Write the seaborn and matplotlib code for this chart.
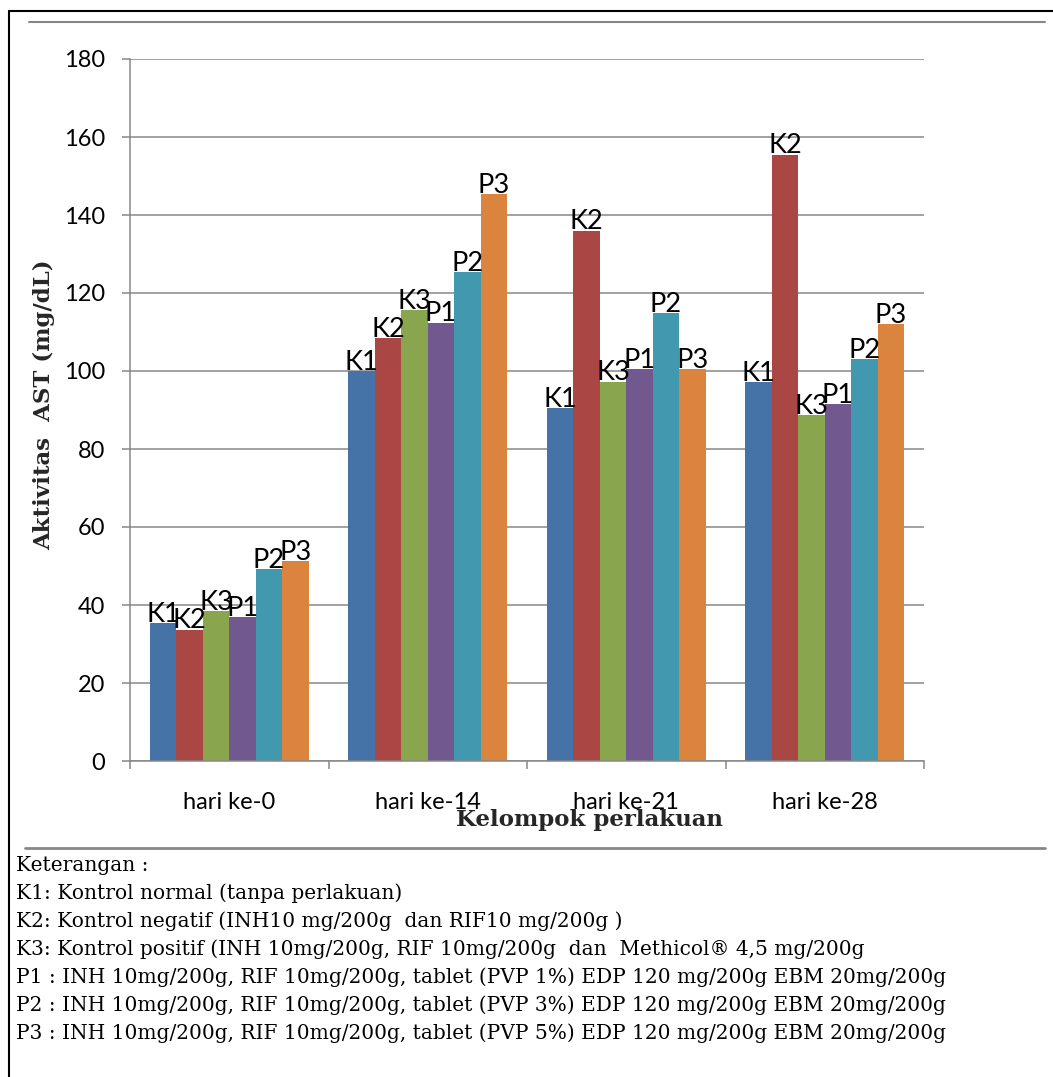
import matplotlib
matplotlib.use("Agg")
import matplotlib.pyplot as plt
from matplotlib.lines import Line2D
import seaborn as sns
import pandas as pd
import numpy as np

# Data: AST activity (mg/dL) per treatment group and day
days = ["hari ke-0", "hari ke-14", "hari ke-21", "hari ke-28"]
groups = ["K1", "K2", "K3", "P1", "P2", "P3"]
K1 = [35.4, 100.0, 90.4, 97.1]
K2 = [33.7, 108.5, 136.0, 155.5]
K3 = [38.5, 115.6, 97.3, 88.6]
P1 = [37.0, 112.4, 100.5, 91.5]
P2 = [49.2, 125.3, 114.8, 103.1]
P3 = [51.2, 145.3, 100.5, 112.1]
yticks = [0, 20, 40, 60, 80, 100, 120, 140, 160, 180]

notes = [
    "Keterangan :",
    "K1: Kontrol normal (tanpa perlakuan)",
    "K2: Kontrol negatif (INH10 mg/200g  dan RIF10 mg/200g )",
    "K3: Kontrol positif (INH 10mg/200g, RIF 10mg/200g  dan  Methicol® 4,5 mg/200g",
    "P1 : INH 10mg/200g, RIF 10mg/200g, tablet (PVP 1%) EDP 120 mg/200g EBM 20mg/200g",
    "P2 : INH 10mg/200g, RIF 10mg/200g, tablet (PVP 3%) EDP 120 mg/200g EBM 20mg/200g",
    "P3 : INH 10mg/200g, RIF 10mg/200g, tablet (PVP 5%) EDP 120 mg/200g EBM 20mg/200g",
]

colors = ["#4572A7", "#AA4643", "#89A54E", "#71588F", "#4198AF", "#DB843D"]

values = {"K1": K1, "K2": K2, "K3": K3, "P1": P1, "P2": P2, "P3": P3}
df = pd.DataFrame(
    [(d, g, values[g][i]) for g in groups for i, d in enumerate(days)],
    columns=["hari", "kelompok", "ast"],
)

sns.set_theme(style="white")
plt.rcParams["font.family"] = ["Lato", "DejaVu Sans"]

W, H = 1053, 1077
fig = plt.figure(figsize=(W / 100, H / 100), dpi=100)
ax = fig.add_axes([130 / W, 1 - 761 / H, (924 - 130) / W, (761 - 59) / H])

sns.barplot(
    data=df, x="hari", y="ast", hue="kelompok", order=days, hue_order=groups,
    palette=colors, width=0.8, linewidth=0, saturation=1, ax=ax, legend=False,
    errorbar=None,
)

grid_c = "#878787"
ax.set_ylim(0, 180)
ax.set_xlim(-0.5, 3.5)
ax.set_yticks(yticks)
ax.yaxis.grid(True, color=grid_c, linewidth=1.1)
ax.set_axisbelow(True)
for s in ["top", "right"]:
    ax.spines[s].set_visible(False)
for s in ["left", "bottom"]:
    ax.spines[s].set_color(grid_c)
    ax.spines[s].set_linewidth(1.1)
ax.tick_params(axis="y", direction="out", length=5.8, width=1.1, color=grid_c,
               pad=12, labelsize=17, labelcolor="black", left=True)
ax.set_xticks(np.arange(len(days)))
ax.set_xticks(np.arange(len(days) + 1) - 0.5, minor=True)
ax.tick_params(axis="x", which="major", length=0, pad=22, labelsize=17,
               labelcolor="black")
ax.tick_params(axis="x", which="minor", direction="out", length=5.8, width=1.1,
               color=grid_c, bottom=True)
ax.set_xlabel("")
ax.set_ylabel("")

# Series name above each bar
for cont, name in zip(ax.containers, groups):
    for p in cont:
        ax.text(p.get_x() + p.get_width() / 2, p.get_height() + 0.3, name,
                ha="center", va="baseline", fontsize=19.5, color="black")

serif = ["DejaVu Serif"]
fig.text(44 / W, 1 - 405 / H, "Aktivitas  AST (mg/dL)", rotation=90,
         ha="center", va="center", fontsize=16.5, fontweight="bold", family=serif)
fig.text(590 / W, 1 - 820 / H, "Kelompok perlakuan", ha="center", va="center",
         fontsize=16.5, fontweight="bold", family=serif)

for i, line in enumerate(notes):
    fig.text(16 / W, 1 - (870.7 + 28.1 * i) / H, line, ha="left", va="baseline",
             fontsize=14.5, family=serif, color="black")

# Frame lines
fig.add_artist(Line2D([9 / W, 9 / W], [0, 1 - 11 / H], color="black", lw=1.5))
fig.add_artist(Line2D([9 / W, 1], [1 - 11 / H, 1 - 11 / H], color="black", lw=1.5))
fig.add_artist(Line2D([29 / W, 1045 / W], [1 - 22 / H, 1 - 22 / H], color=grid_c, lw=1.5))
fig.add_artist(Line2D([25 / W, 1045 / W], [1 - 848 / H, 1 - 848 / H], color=grid_c, lw=2))

fig.savefig("out.png", dpi=100)
